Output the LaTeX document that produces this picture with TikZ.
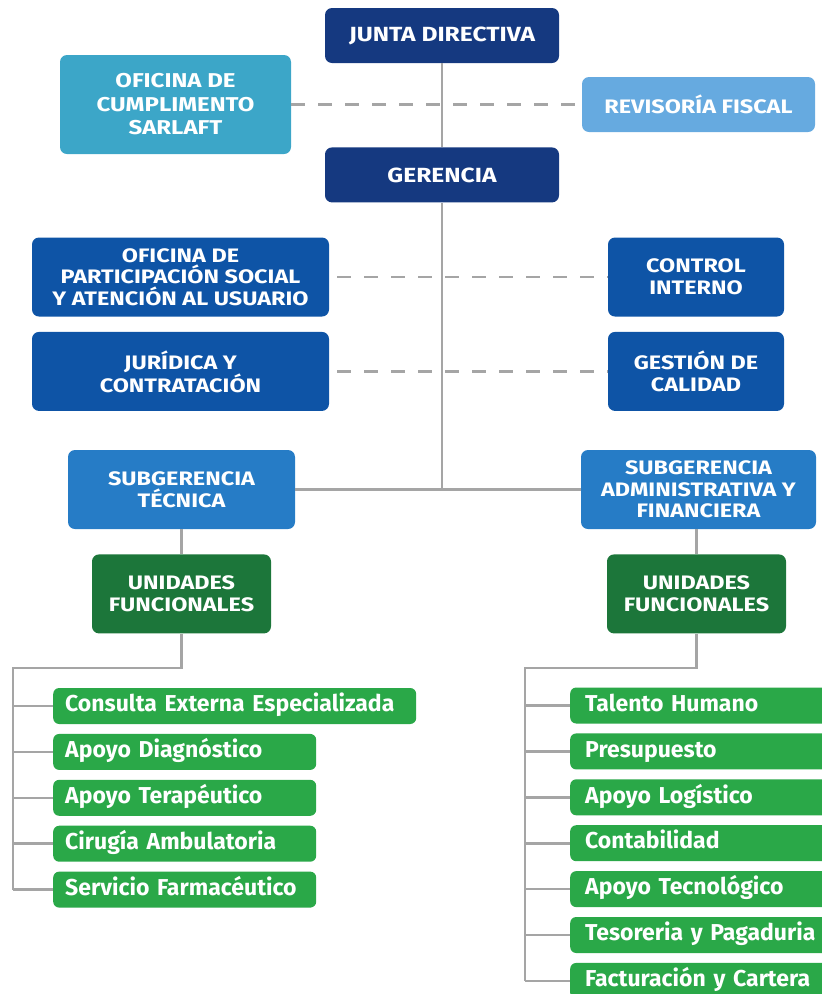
\documentclass[tikz,border=0pt]{standalone}
\usepackage{fontspec}
\setmainfont{Fira Sans}
\newfontfamily\headfont[FakeStretch=1.2]{Fira Sans}
\usetikzlibrary{positioning}

\definecolor{navy}{RGB}{21,57,128}
\definecolor{sarlaftblue}{RGB}{60,166,200}
\definecolor{fiscalblue}{RGB}{102,170,224}
\definecolor{deepblue}{RGB}{14,84,166}
\definecolor{subblue}{RGB}{38,124,198}
\definecolor{unitgreen}{RGB}{28,118,58}
\definecolor{itemgreen}{RGB}{42,168,72}
\definecolor{linegray}{RGB}{165,165,165}

\begin{document}
\begin{tikzpicture}[
            x=1pt, y=-1pt,
            node distance=9.5pt and 0pt,
            % Styles
            box/.style={rectangle, rounded corners=7pt, text=white, align=center, inner sep=0pt, font=\headfont\bfseries\fontsize{19.5}{21.7}\selectfont},
            board/.style={box, fill=navy, minimum width=234pt, minimum height=55pt, font=\headfont\bfseries\fontsize{20.5}{23}\selectfont},
            office/.style={box, fill=deepblue, minimum width=297pt, minimum height=79pt},
            staff/.style={box, fill=deepblue, minimum width=176pt, minimum height=79pt},
            subunit/.style={box, fill=subblue, minimum height=79pt},
            units/.style={box, fill=unitgreen, minimum width=179pt, minimum height=79pt},
            item/.style={rectangle, rounded corners=6pt, fill=itemgreen, text=white, anchor=west, align=left, inner xsep=12pt, inner ysep=0pt, minimum height=36pt, text height=16.5pt, text depth=5pt, text width=#1, font=\bfseries\fontsize{23}{26}\selectfont},
            link/.style={draw=linegray, line width=2.6pt},
            dashlink/.style={draw=linegray, line width=2.4pt, dash pattern=on 14pt off 13pt}
        ]
        \useasboundingbox (0,0) rectangle (822,994);

        % --- TOP: board and management ---
        \node (junta) [board] at (442,35.5) {JUNTA DIRECTIVA};
        \node (gerencia) [board, below=84pt of junta] {GERENCIA};
        \node (sarlaft) [box, fill=sarlaftblue, minimum width=231pt, minimum height=99pt, font=\headfont\bfseries\fontsize{20}{23.5}\selectfont] at (175.5,104.5) {OFICINA DE\\CUMPLIMENTO\\SARLAFT};
        \node (fiscal) [box, fill=fiscalblue, minimum width=233pt, minimum height=55pt] at (698.5,104.5) {REVISORÍA FISCAL};

        % --- STAFF OFFICES ---
        \node (usuario) [office] at (180.5,277) {OFICINA DE\\PARTICIPACIÓN SOCIAL\\Y ATENCIÓN AL USUARIO};
        \node (juridica) [office, below=15pt of usuario] {JURÍDICA Y\\CONTRATACIÓN};
        \node (control) [staff] at (696,277) {CONTROL\\INTERNO};
        \node (calidad) [staff, below=15pt of control] {GESTIÓN DE\\CALIDAD};

        % --- SUBGERENCIAS ---
        \node (subtec) [subunit, minimum width=227pt] at (181.5,489.5) {SUBGERENCIA\\TÉCNICA};
        \node (subadm) [subunit, minimum width=235pt] at (698.5,489.5) {SUBGERENCIA\\ADMINISTRATIVA Y\\FINANCIERA};
        \node (unitec) [units, below=25pt of subtec] {UNIDADES\\FUNCIONALES};
        \node (uniadm) [units, below=25pt of subadm, xshift=-2pt] {UNIDADES\\FUNCIONALES};

        % --- LEFT UNITS ---
        \node (consulta) [item=339pt] at (53,706) {\mbox{Consulta Externa Especializada}};
        \node (diag) [item=239pt, below=of consulta.south west, anchor=north west] {Apoyo Diagnóstico};
        \node (terap) [item=239pt, below=of diag.south west, anchor=north west] {Apoyo Terapéutico};
        \node (cirugia) [item=239pt, below=of terap.south west, anchor=north west] {Cirugía Ambulatoria};
        \node (farma) [item=239pt, below=of cirugia.south west, anchor=north west] {\mbox{Servicio Farmacéutico}};

        % --- RIGHT UNITS ---
        \node (talento) [item=250pt, inner xsep=15pt] at (570,705.5) {Talento Humano};
        \node (presu) [item=250pt, inner xsep=15pt, below=of talento.south west, anchor=north west] {Presupuesto};
        \node (logis) [item=250pt, inner xsep=15pt, below=of presu.south west, anchor=north west] {Apoyo Logístico};
        \node (conta) [item=250pt, inner xsep=15pt, below=of logis.south west, anchor=north west] {Contabilidad};
        \node (tecno) [item=250pt, inner xsep=15pt, below=of conta.south west, anchor=north west] {Apoyo Tecnológico};
        \node (teso) [item=250pt, inner xsep=15pt, below=of tecno.south west, anchor=north west] {\mbox{Tesoreria y Pagaduria}};
        \node (factu) [item=250pt, inner xsep=15pt, below=of teso.south west, anchor=north west] {Facturación y Cartera};

        \coordinate (lbus) at (13,668);
        \coordinate (rbus) at (525,668);

        % --- MAIN LINES ---
        \draw [link] (junta) -- (gerencia);
        \draw [link] (gerencia.south) -- (gerencia.south |- subtec.east);
        \draw [link] (subtec) -- (subadm);
        \draw [link] (subtec) -- (unitec);
        \draw [link] ([xshift=-2pt]subadm.south) -- (uniadm);

        % --- ADVISORY LINES ---
        \draw [dashlink] (sarlaft) -- (fiscal);
        \draw [dashlink] (usuario.east) ++(8,0) -- (control.west);
        \draw [dashlink] (juridica.east) ++(8,0) -- (calidad.west);

        % --- UNIT BRACKETS ---
        \draw [link] (unitec.south) |- (lbus) -- (lbus |- farma.west);
        \draw [link] (lbus |- consulta.west) -- (consulta.west);
        \draw [link] (lbus |- diag.west) -- (diag.west);
        \draw [link] (lbus |- terap.west) -- (terap.west);
        \draw [link] (lbus |- cirugia.west) -- (cirugia.west);
        \draw [link] (lbus |- farma.west) -- (farma.west);

        \draw [link] (uniadm.south) |- (rbus) -- (rbus |- factu.west);
        \draw [link] (rbus |- talento.west) -- (talento.west);
        \draw [link] (rbus |- presu.west) -- (presu.west);
        \draw [link] (rbus |- logis.west) -- (logis.west);
        \draw [link] (rbus |- conta.west) -- (conta.west);
        \draw [link] (rbus |- tecno.west) -- (tecno.west);
        \draw [link] (rbus |- teso.west) -- (teso.west);
        \draw [link] (rbus |- factu.west) -- (factu.west);

        \end{tikzpicture}
\end{document}
